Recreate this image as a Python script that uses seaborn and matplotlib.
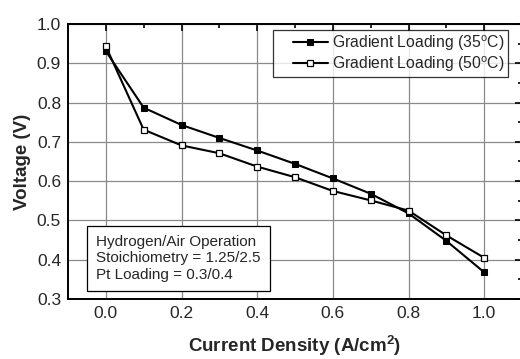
import matplotlib
matplotlib.use("Agg")
import matplotlib.pyplot as plt
import seaborn as sns
import pandas as pd
from matplotlib.ticker import MultipleLocator
from matplotlib.lines import Line2D
from matplotlib.legend_handler import HandlerLine2D

current = [0.0, 0.1, 0.2, 0.3, 0.4, 0.5, 0.6, 0.7, 0.8, 0.9, 1.0]
v35 = [0.931, 0.787, 0.743, 0.710, 0.678, 0.644, 0.607, 0.568, 0.518, 0.448, 0.368]
v50 = [0.943, 0.731, 0.691, 0.671, 0.637, 0.610, 0.575, 0.551, 0.525, 0.462, 0.405]
label35 = "Gradient Loading (35$^\\mathrm{o}$C)"
label50 = "Gradient Loading (50$^\\mathrm{o}$C)"
xticks = [0.0, 0.2, 0.4, 0.6, 0.8, 1.0]
yticks = [0.3, 0.4, 0.5, 0.6, 0.7, 0.8, 0.9, 1.0]
note = "Hydrogen/Air Operation\nStoichiometry = 1.25/2.5\nPt Loading = 0.3/0.4"

sns.set_style("white")
plt.rcParams['font.family'] = ['Liberation Sans', 'DejaVu Sans']
plt.rcParams['mathtext.fontset'] = 'custom'
plt.rcParams['mathtext.rm'] = 'Liberation Sans'
plt.rcParams['mathtext.bf'] = 'Liberation Sans:bold'

fig = plt.figure(figsize=(5.2, 3.59), dpi=100)
ax = fig.add_axes([68/520, 1-299/359, (522-68)/520, (299-24)/359])

df35 = pd.DataFrame({"x": current, "y": v35})
df50 = pd.DataFrame({"x": current, "y": v50})
sns.lineplot(data=df35, x="x", y="y", ax=ax, color="black", lw=1.5, marker="s",
             markersize=5, markerfacecolor="black", markeredgecolor="black",
             label=label35, zorder=3)
sns.lineplot(data=df50, x="x", y="y", ax=ax, color="black", lw=1.5, marker="s",
             markersize=5, markerfacecolor="white", markeredgecolor="black",
             markeredgewidth=0.9, label=label50, zorder=3)

ax.set_xlim(-0.1, 1.1)
ax.set_ylim(0.3, 1.0)
ax.set_xticks(xticks)
ax.set_yticks(yticks)
ax.set_xticklabels([f"{t:.1f}" for t in xticks])
ax.set_yticklabels([f"{t:.1f}" for t in yticks])
ax.xaxis.set_minor_locator(MultipleLocator(0.1))
ax.yaxis.set_minor_locator(MultipleLocator(0.05))
ax.tick_params(which="both", direction="in", top=True, right=True, labelsize=12.5,
               width=1.2, color="black")
ax.tick_params(which="major", length=5, pad=5)
ax.tick_params(which="minor", length=3)
ax.grid(True, which="major", color="#8a8a8a", lw=0.9)
for s in ax.spines.values():
    s.set_color("black")
    s.set_linewidth(1.4)

ax.set_xlabel("Current Density (A/cm$^\\mathbf{2}$)", fontsize=13.5, fontweight="bold", labelpad=9)
ax.set_ylabel("Voltage (V)", fontsize=13.5, fontweight="bold", labelpad=4)

leg = ax.legend(loc="upper right", bbox_to_anchor=(0.969, 0.978), fontsize=11.3, frameon=True,
                fancybox=False, edgecolor="black", handlelength=3.3, handletextpad=0.3,
                borderpad=0.2, labelspacing=0.1, borderaxespad=0,
                handler_map={Line2D: HandlerLine2D(xpad=1.1)})
leg.get_frame().set_linewidth(0.9)

ax.text(0.062, 0.232, note, transform=ax.transAxes, fontsize=11, va="top", ha="left",
        linespacing=1.2,
        bbox=dict(boxstyle="square,pad=0.6", fc="white", ec="black", lw=0.9), zorder=5)

fig.savefig("out.png", dpi=100)
